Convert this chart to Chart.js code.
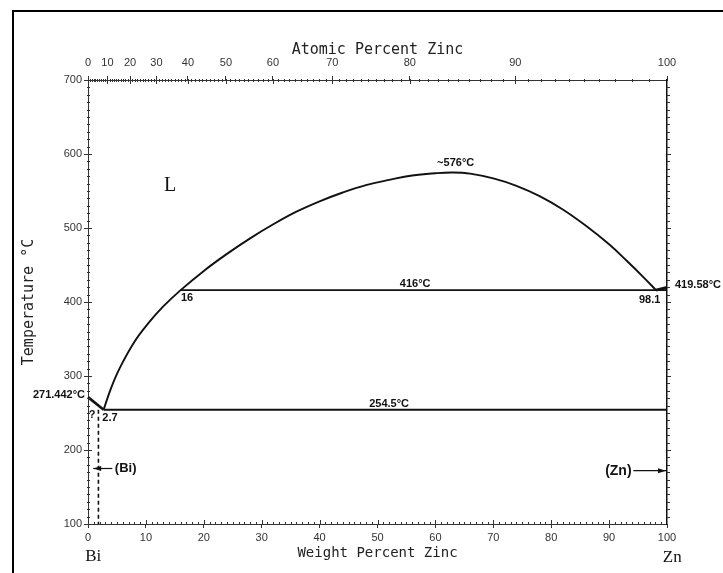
<!DOCTYPE html>
<html>
<head>
<meta charset="utf-8">
<script src="https://cdn.jsdelivr.net/npm/chart.js@4"></script>
<style>
  html, body { margin: 0; background: #fff; }
  #wrap { width: 723px; height: 573px; position: relative; }
</style>
</head>
<body>
<div id="wrap"><canvas id="chart"></canvas></div>
<script>
// axis ticks
const wtTicks = [0, 10, 20, 30, 40, 50, 60, 70, 80, 90, 100];
const atTicks = [0, 10, 20, 30, 40, 50, 60, 70, 80, 90, 100];
const tempTicks = [100, 200, 300, 400, 500, 600, 700];

// phase boundaries, [wt% Zn, °C]
const biLiquidus = [[0, 271.442], [2.7, 254.5]];
// liquidus from the eutectic through the monotectic (16) and over the miscibility gap
const liquidus = [
  [2.7, 254.5], [4, 284], [5.5, 311], [8, 346], [10.5, 372], [13, 394], [16, 416],
  [20, 442], [24, 465], [28, 486], [32, 505], [36, 522], [40, 536], [44, 548],
  [48, 558], [52, 565], [56, 571], [60, 574], [63, 575], [66, 573.5], [70, 567],
  [74, 557], [78, 543], [82, 525], [86, 503], [90, 478], [93, 456], [96, 433], [98.1, 416]
];
const znLiquidus = [[98.1, 416], [100, 419.58]];
const monotectic = [[16, 416], [100, 416]];
const eutectic = [[2.7, 254.5], [100, 254.5]];
const biSolvus = [[1.8, 254.5], [1.8, 100]];

const M_ZN = 65.38, M_BI = 208.98;
function atToWt(a) {
  return 100 * a * M_ZN / (a * M_ZN + (100 - a) * M_BI);
}

const pts = arr => arr.map(([x, y]) => ({x, y}));
const INK = '#111';
const tickFont = {family: "'Liberation Sans', Arial, sans-serif", size: 11};
const monoFont = {family: "'DejaVu Sans Mono', 'Liberation Mono', monospace", size: 15};

function line(data, width, extra) {
  return Object.assign({
    data: pts(data), showLine: true, borderColor: INK, borderWidth: width,
    pointRadius: 0, fill: false, clip: false, tension: 0
  }, extra || {});
}

const frameAndTicks = {
  id: 'frameAndTicks',
  beforeDraw(chart) {
    const {ctx} = chart;
    ctx.save();
    ctx.fillStyle = '#fff';
    ctx.fillRect(0, 0, chart.width, chart.height);
    ctx.strokeStyle = '#000';
    ctx.lineWidth = 2;
    ctx.strokeRect(13, 11, 760, 620);
    ctx.restore();
  },
  afterDraw(chart) {
    const {ctx, chartArea: a, scales: {x, y, x2}} = chart;
    ctx.save();
    ctx.strokeStyle = '#333';
    ctx.lineWidth = 1;
    ctx.beginPath();
    for (let v = 1; v < 100; v++) {
      const px = Math.round(x.getPixelForValue(v)) + 0.5;
      const big = v % 10 === 0;
      ctx.moveTo(px, a.bottom - (big ? 4 : 2));
      ctx.lineTo(px, a.bottom + 1);
      const pt = Math.round(x2.getPixelForValue(atToWt(v))) + 0.5;
      ctx.moveTo(pt, a.top - 1);
      ctx.lineTo(pt, a.top + (v % 10 === 0 ? 4 : 2));
    }
    for (let t = 110; t < 700; t += 10) {
      const py = Math.round(y.getPixelForValue(t)) + 0.5;
      const big = t % 100 === 0;
      ctx.moveTo(a.left - 1, py);
      ctx.lineTo(a.left + (big ? 4 : 2), py);
      ctx.moveTo(a.right, py);
      ctx.lineTo(a.right + (big ? 4 : 3), py);
    }
    ctx.stroke();
    ctx.restore();
  }
};

function arrow(ctx, x0, x1, yy) {
  ctx.beginPath();
  ctx.moveTo(x0, yy);
  ctx.lineTo(x1, yy);
  ctx.stroke();
  const d = x1 > x0 ? 1 : -1;
  ctx.beginPath();
  ctx.moveTo(x1, yy);
  ctx.lineTo(x1 - d * 8, yy - 2.5);
  ctx.lineTo(x1 - d * 8, yy + 2.5);
  ctx.closePath();
  ctx.fill();
}

const labels = {
  id: 'labels',
  afterDatasetsDraw(chart) {
    const {ctx, scales: {x, y}} = chart;
    const X = v => x.getPixelForValue(v), Y = v => y.getPixelForValue(v);
    ctx.save();
    ctx.fillStyle = INK;
    ctx.strokeStyle = INK;
    ctx.textBaseline = 'middle';
    const small = "bold 11px 'Liberation Sans', Arial, sans-serif";
    const put = (txt, px, py, align, font) => {
      ctx.font = font || small;
      ctx.textAlign = align || 'center';
      ctx.fillText(txt, px, py);
    };
    put('~576°C', X(63.5), Y(576) - 9);
    put('416°C', X(56.5), Y(416) - 6);
    put('254.5°C', X(52), Y(254.5) - 6);
    put('16', X(17.1), Y(416) + 8);
    put('98.1', X(97), Y(416) + 10);
    put('419.58°C', X(100) + 8, Y(419.58) - 3, 'left');
    put('271.442°C', X(0) - 3, Y(271.442) - 2, 'right');
    put('?', X(0.7), Y(254.5) + 5);
    put('2.7', X(3.8), Y(254.5) + 8);
    put('(Bi)', X(6.5), Y(175), 'center', "bold 13px 'Liberation Sans', Arial, sans-serif");
    put('(Zn)', X(91.6), Y(172), 'center', "bold 14px 'Liberation Sans', Arial, sans-serif");
    put('L', X(14.2), Y(557), 'center', "20px 'Liberation Serif', 'DejaVu Serif', serif");
    put('Bi', X(0.9), 557, 'center', "17px 'Liberation Serif', 'DejaVu Serif', serif");
    put('Zn', X(100.9), 558, 'center', "17px 'Liberation Serif', 'DejaVu Serif', serif");
    ctx.lineWidth = 1.2;
    arrow(ctx, X(4.2), X(0.9), Y(175));
    arrow(ctx, X(94.2), X(100) - 1, Y(172));
    ctx.restore();
  }
};

new Chart(document.getElementById('chart'), {
  type: 'scatter',
  data: {
    datasets: [
      line(biLiquidus, 2.6),
      line(liquidus, 1.9, {tension: 0.4}),
      line(znLiquidus, 3),
      line(monotectic, 1.8),
      line(eutectic, 2),
      line(biSolvus, 1.6, {borderDash: [4, 3]})
    ]
  },
  options: {
    responsive: true,
    maintainAspectRatio: false,
    animation: false,
    layout: {padding: 0},
    plugins: {legend: {display: false}, tooltip: {enabled: false}},
    scales: {
      x: {
        type: 'linear', position: 'bottom', min: 0, max: 100,
        afterBuildTicks: s => { s.ticks = wtTicks.map(v => ({value: v})); },
        afterFit: s => { s.height = 49; },
        ticks: {font: tickFont, color: '#333', padding: 3, autoSkip: false, maxRotation: 0},
        grid: {drawOnChartArea: false, tickLength: 4, color: '#333'},
        border: {color: '#333', width: 1, dash: [2, 1]},
        title: {display: true, text: 'Weight Percent Zinc', font: {family: monoFont.family, size: 14},
                color: '#222', padding: {top: 0, bottom: 11}}
      },
      x2: {
        type: 'linear', position: 'top', min: 0, max: 100,
        afterBuildTicks: s => { s.ticks = atTicks.map(a => ({value: atToWt(a)})); },
        afterFit: s => { s.height = 80; },
        ticks: {font: tickFont, color: '#333', padding: 6, autoSkip: false, maxRotation: 0,
                callback: (v, i) => atTicks[i]},
        grid: {drawOnChartArea: false, tickLength: 4, color: '#333'},
        border: {color: '#333', width: 1, dash: [2, 1]},
        title: {display: true, text: 'Atomic Percent Zinc', font: monoFont,
                color: '#222', padding: {top: 41, bottom: 0}}
      },
      y: {
        type: 'linear', position: 'left', min: 100, max: 700,
        afterBuildTicks: s => { s.ticks = tempTicks.map(v => ({value: v})); },
        afterFit: s => { s.width = 88; },
        ticks: {font: tickFont, color: '#333', padding: 2},
        grid: {drawOnChartArea: false, tickLength: 4, color: '#333'},
        border: {color: '#333', width: 1, dash: [2, 1]},
        title: {display: true, text: 'Temperature °C', font: monoFont,
                color: '#222', padding: {top: 20, bottom: 0}}
      },
      y2: {
        type: 'linear', position: 'right', min: 100, max: 700,
        afterFit: s => { s.width = 56; },
        ticks: {display: false},
        grid: {drawOnChartArea: false, drawTicks: false},
        border: {color: INK, width: 1.5}
      }
    }
  },
  plugins: [frameAndTicks, labels]
});
</script>
</body>
</html>
